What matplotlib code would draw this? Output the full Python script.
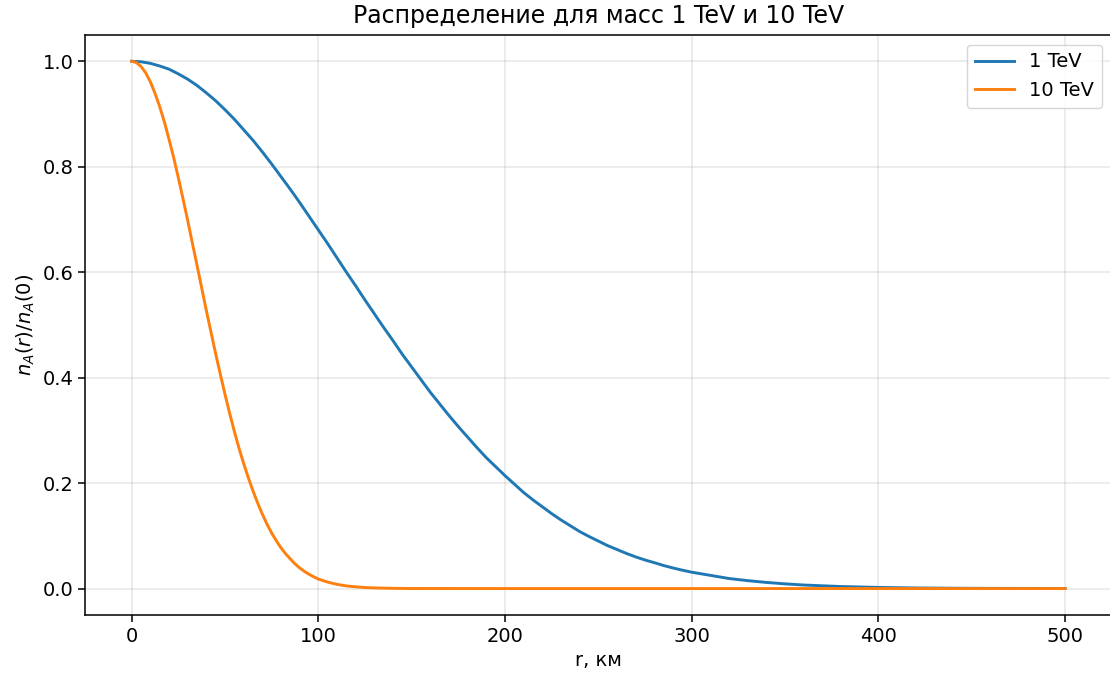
import matplotlib
matplotlib.use("Agg")
import matplotlib.pyplot as plt

# r, km
r_1tev = [0, 5, 10, 15, 20, 25, 30, 35, 40, 45, 50, 55, 60, 65, 70, 75, 80, 85,
          90, 95, 100, 105, 110, 115, 120, 125, 130, 135, 140, 145, 150, 155,
          160, 165, 170, 175, 180, 185, 190, 195, 200, 205, 210, 215, 220, 225,
          230, 235, 240, 245, 250, 255, 260, 265, 270, 275, 280, 285, 290, 295,
          300, 310, 320, 330, 340, 350, 360, 380, 400, 420, 450, 500]
n_1tev = [1.0, 0.999, 0.996, 0.991, 0.985, 0.976, 0.966, 0.954, 0.940, 0.925,
          0.908, 0.890, 0.870, 0.850, 0.828, 0.805, 0.781, 0.757, 0.732, 0.706,
          0.680, 0.654, 0.627, 0.600, 0.574, 0.547, 0.521, 0.495, 0.470, 0.444,
          0.420, 0.396, 0.372, 0.350, 0.328, 0.307, 0.287, 0.267, 0.248, 0.231,
          0.214, 0.198, 0.182, 0.168, 0.155, 0.142, 0.130, 0.119, 0.108, 0.0987,
          0.090, 0.0813, 0.074, 0.0666, 0.060, 0.0541, 0.049, 0.0436, 0.039,
          0.0348, 0.031, 0.025, 0.019, 0.015, 0.0116, 0.0089, 0.0067, 0.0038,
          0.0021, 0.0011, 0.0004, 0.0001]

r_10tev = [0, 2.5, 5, 7.5, 10, 12.5, 15, 17.5, 20, 22.5, 25, 27.5, 30, 32.5, 35,
           37.5, 40, 42.5, 45, 47.5, 50, 52.5, 55, 57.5, 60, 62.5, 65, 67.5, 70,
           72.5, 75, 77.5, 80, 82.5, 85, 87.5, 90, 92.5, 95, 97.5, 100, 105, 110,
           115, 120, 125, 130, 140, 150, 200, 300, 400, 500]
n_10tev = [1.0, 0.9975, 0.990, 0.978, 0.961, 0.939, 0.914, 0.885, 0.852, 0.817,
           0.779, 0.739, 0.698, 0.655, 0.613, 0.570, 0.527, 0.486, 0.445, 0.406,
           0.368, 0.332, 0.298, 0.266, 0.237, 0.210, 0.185, 0.162, 0.141, 0.122,
           0.105, 0.0905, 0.077, 0.0657, 0.056, 0.0468, 0.039, 0.0326, 0.027,
           0.0223, 0.018, 0.0122, 0.0079, 0.0050, 0.0032, 0.0019, 0.0012, 0.0004,
           0.0001, 0.0, 0.0, 0.0, 0.0]

labels = ["1 TeV", "10 TeV"]
title = "Распределение для масс 1 TeV и 10 TeV"

fig = plt.figure(figsize=(11.1, 6.84), dpi=100)
ax = fig.add_axes([0.0766, 0.101, 0.925, 0.848])
ax.plot(r_1tev, n_1tev, color="#1f77b4", lw=2.1, label=labels[0])
ax.plot(r_10tev, n_10tev, color="#ff7f0e", lw=2.1, label=labels[1])
ax.set_xlim(-25, 525)
ax.set_ylim(-0.05, 1.05)
ax.grid(True, alpha=0.3, lw=1.1)
for s in ax.spines.values():
    s.set_linewidth(1.1)
ax.tick_params(labelsize=14, width=1.1, length=4.9)
ax.set_xlabel("r, км", fontsize=14)
ax.set_ylabel("$n_A(r)/n_A(0)$", fontsize=14)
ax.set_title(title, fontsize=17, pad=8.4)
ax.legend(loc="upper right", fontsize=14)
fig.savefig("out.png", dpi=100)
